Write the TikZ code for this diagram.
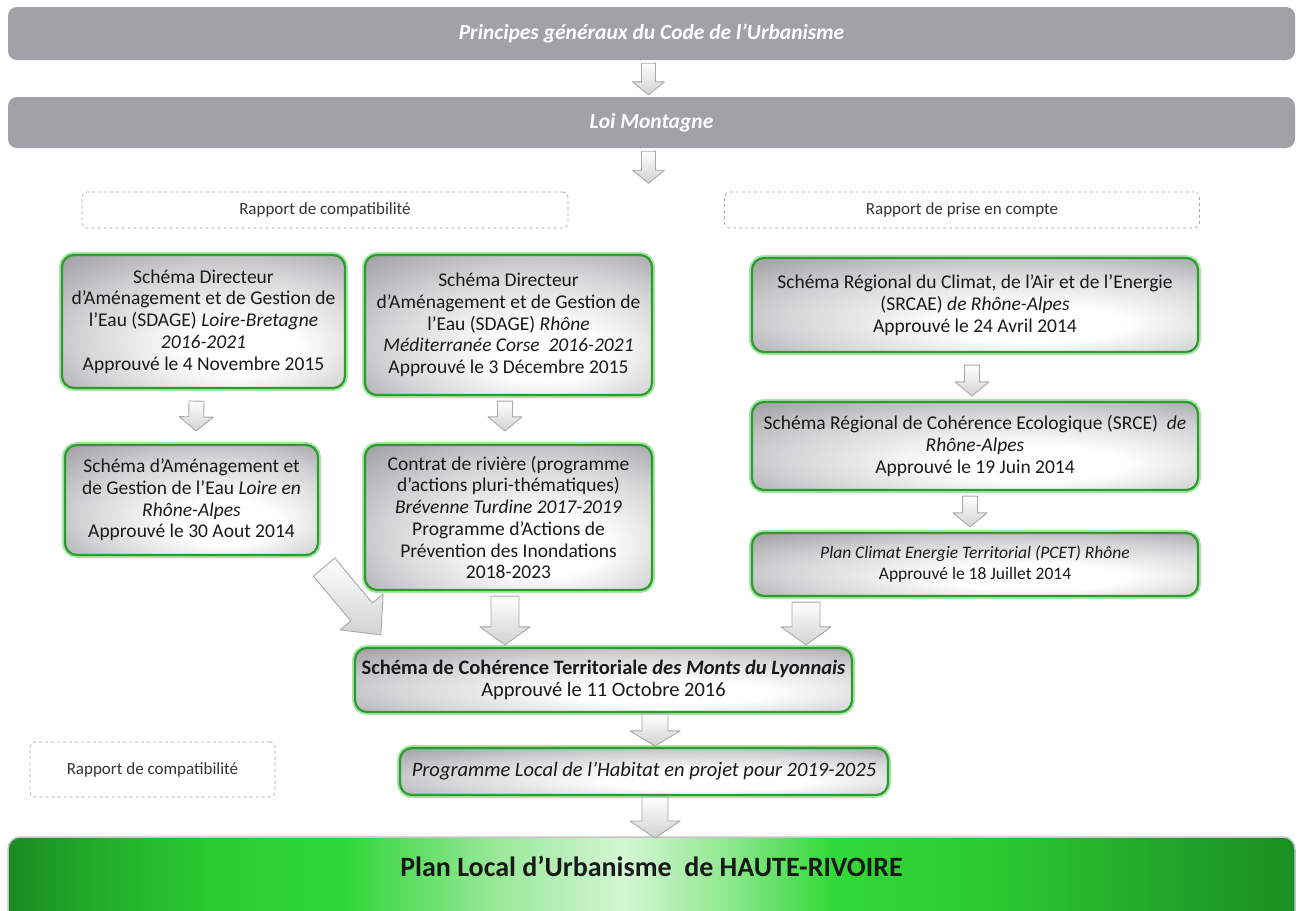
\documentclass[tikz,border=0pt]{standalone}
\usepackage{fontspec}
\setmainfont{Carlito}
\usetikzlibrary{calc}
\definecolor{bargray}{HTML}{A2A2A6}
\definecolor{boxgray}{HTML}{A0A0A4}
\definecolor{bgreen}{HTML}{2F9A2F}
\definecolor{glow}{HTML}{A6E6A6}
\definecolor{arrdraw}{HTML}{A8A8A8}
\definecolor{ga}{HTML}{1A8A22}
\definecolor{gb}{HTML}{22A82A}
\definecolor{gc}{HTML}{2BCB33}
\definecolor{gd}{HTML}{30D638}
\definecolor{ge}{HTML}{9AE89A}
\definecolor{gf}{HTML}{D4F6D4}
\definecolor{gg}{HTML}{8EE88E}
\definecolor{gh}{HTML}{33D93A}
\definecolor{gi}{HTML}{2CC532}
\definecolor{gj}{HTML}{22A42A}
\definecolor{gk}{HTML}{1B8E22}
\pgfdeclareradialshading{boxsh}{\pgfpoint{8bp}{-12bp}}{color(0bp)=(white); color(10bp)=(white); color(26bp)=(boxgray!45!white); color(40bp)=(boxgray); color(60bp)=(boxgray)}
\pgfdeclarehorizontalshading{plush}{100bp}{color(0bp)=(ga); color(25bp)=(ga); color(28bp)=(gb); color(33bp)=(gc); color(38bp)=(gd); color(44bp)=(ge); color(49bp)=(gf); color(53bp)=(gg); color(57bp)=(gh); color(64bp)=(gi); color(70bp)=(gj); color(75bp)=(gk); color(100bp)=(gk)}
\newcommand\barr[5]{%
  \coordinate (bs) at #1; \coordinate (be) at #2;
  \coordinate (bh) at ($(be)!#5!(bs)$);
  \draw[blockarr] ($(bs)!#3!90:(be)$) -- ($(bh)!#3!-90:(bs)$) -- ($(bh)!#4!-90:(bs)$) -- (be) -- ($(bh)!#4!90:(bs)$) -- ($(bh)!#3!90:(bs)$) -- ($(bs)!#3!-90:(be)$) -- cycle;}
\tikzset{
  topbar/.style={fill=bargray, rounded corners=9pt, draw=none, text=white, font=\bfseries\itshape\fontsize{21.5}{24}\selectfont, inner sep=0pt},
  gbox/.style={shading=boxsh, draw=bgreen, line width=2.2pt, rounded corners=12pt, preaction={draw=glow, line width=6pt}, align=center, font=\fontsize{19.5}{21.75}\selectfont, inner sep=0pt, text=black!90},
  dbox/.style={draw=gray!70, dashed, line width=0.7pt, rounded corners=5pt, font=\fontsize{17}{20}\selectfont, text=black!80, inner sep=0pt},
  blockarr/.style={draw=arrdraw, line width=0.9pt, top color=white, bottom color=gray!35, line join=round},
}
\begin{document}
\begin{tikzpicture}[x=1pt,y=-1pt]
\useasboundingbox (0,0) rectangle (1300,910);
\clip (0,0) rectangle (1300,910);
\fill[white] (0,0) rectangle (1300,910);
% top bars
\node[topbar, minimum width=1287, minimum height=53] (top1) at (651.5,33.5) {Principes généraux du Code de l’Urbanisme};
\node[topbar, minimum width=1287, minimum height=51] (top2) at (651.5,122.5) {Loi Montagne};
% dashed labels
\node[dbox, minimum width=486, minimum height=36] (dashL) at (325,210) {Rapport de compatibilité};
\node[dbox, minimum width=475, minimum height=36] (dashR) at (962,210) {Rapport de prise en compte};
% boxes
\node[gbox, minimum width=283, minimum height=133] (A) at (203.5,321.5) {Schéma Directeur\\d’Aménagement et de Gestion de\\l’Eau (SDAGE) \textit{Loire-Bretagne}\\\textit{2016-2021}\\Approuvé le 4 Novembre 2015};
\node[gbox, minimum width=287, minimum height=140] (B) at (508.5,325) {Schéma Directeur\\d’Aménagement et de Gestion de\\l’Eau (SDAGE) \textit{Rhône}\\\textit{Méditerranée Corse\ \ 2016-2021}\\Approuvé le 3 Décembre 2015};
\node[gbox, minimum width=446, minimum height=94] (C) at (975,305) {Schéma Régional du Climat, de l’Air et de l’Energie\\(SRCAE) \textit{de Rhône-Alpes}\\Approuvé le 24 Avril 2014};
\node[gbox, minimum width=253, minimum height=110] (D) at (191.5,500) {Schéma d’Aménagement et\\de Gestion de l’Eau \textit{Loire en}\\\textit{Rhône-Alpes}\\Approuvé le 30 Aout 2014};
\node[gbox, minimum width=287, minimum height=145] (E) at (508.5,517.5) {Contrat de rivière (programme\\d’actions pluri-thématiques)\\\textit{Brévenne Turdine 2017-2019}\\Programme d’Actions de\\Prévention des Inondations\\2018-2023};
\node[gbox, minimum width=446, minimum height=88] (F) at (975,446) {Schéma Régional de Cohérence Ecologique (SRCE)\ \ \textit{de}\\\textit{Rhône-Alpes}\\Approuvé le 19 Juin 2014};
\node[gbox, minimum width=446, minimum height=63, font=\fontsize{17.5}{21}\selectfont] (G) at (975,564.5) {\textit{Plan Climat Energie Territorial (PCET) Rhône}\\Approuvé le 18 Juillet 2014};
\node[gbox, minimum width=497, minimum height=64, font=\fontsize{20.5}{22}\selectfont] (H) at (603.5,680) {\textbf{Schéma de Cohérence Territoriale \textit{des Monts du Lyonnais}}\\Approuvé le 11 Octobre 2016};
\node[dbox, minimum width=245, minimum height=55] (dashB) at (152.5,769.5) {Rapport de compatibilité};
\node[gbox, minimum width=488, minimum height=47, font=\itshape\fontsize{20.5}{22}\selectfont] (I) at (644,771.5) {Programme Local de l’Habitat en projet pour 2019-2025};
% bottom bar
\path[shading=plush, draw=gray!45, line width=1.5pt, rounded corners=12pt] (8,930) -- (8,837) -- (1295,837) -- (1295,930) -- cycle;
\coordinate (plutop) at (651.5,837);
\node[font=\bfseries\fontsize{28}{32}\selectfont, text=black!90] (plu) at (651.5,866) {Plan Local d’Urbanisme\ \ de HAUTE-RIVOIRE};
% arrows
\barr{($(top1.south)+(-3,3)$)}{($(top2.north)+(-3,-2)$)}{7pt}{16pt}{13pt}
\barr{($(top2.south)+(-3,3)$)}{($(top2.south)+(-3,35)$)}{7pt}{16pt}{13pt}
\barr{($(A.south)+(-7,12)$)}{($(D.north)+(4.5,-13)$)}{7.5pt}{17pt}{14pt}
\barr{($(B.south)+(-3.5,5)$)}{($(E.north)+(-3.5,-13)$)}{7.5pt}{17pt}{14pt}
\barr{($(C.south)+(-3,12)$)}{($(F.north)+(-3,-5)$)}{7.5pt}{17pt}{14pt}
\barr{($(F.south)+(-5,5)$)}{($(G.north)+(-5,-5)$)}{7.5pt}{17pt}{14pt}
\barr{($(D.south east)+(5,11)$)}{($(H.north west)+(27,-12)$)}{14pt}{28pt}{30pt}
\barr{($(E.south)+(-3.5,5)$)}{($(E.south|-H.north)+(-3.5,-2)$)}{14pt}{25pt}{18pt}
\barr{($(G.south)+(-169,5)$)}{($(G.south|-H.north)+(-169,-2)$)}{14pt}{25pt}{18pt}
\barr{($(H.south)+(51.5,1)$)}{($(I.north)+(11,-1)$)}{13pt}{25pt}{15pt}
\barr{($(I.south)+(11,1)$)}{($(plutop)+(3.5,1)$)}{13pt}{25pt}{17pt}
\end{tikzpicture}
\end{document}
